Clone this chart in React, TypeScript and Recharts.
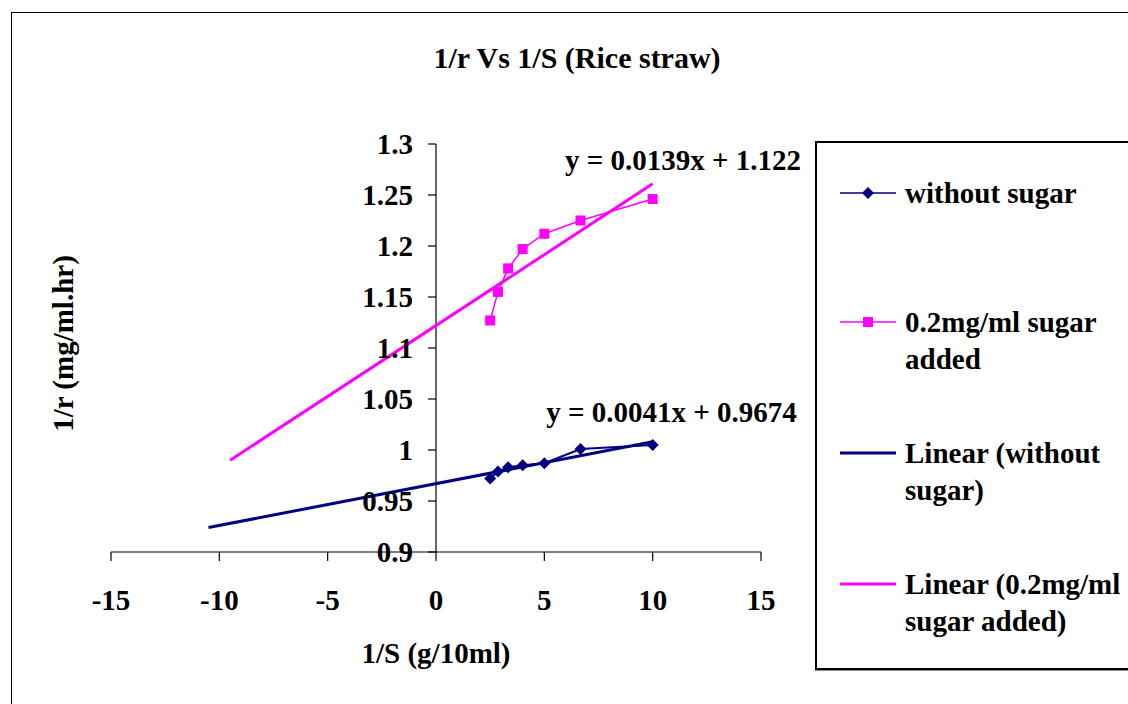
import React from 'react';
import { ScatterChart, Scatter, XAxis, YAxis, ReferenceLine, ReferenceDot } from 'recharts';

// 1/S values (g/10ml) shared by both series
const invS = [2.5, 2.86, 3.33, 4, 5, 6.67, 10];
const withoutSugar = [0.972, 0.979, 0.983, 0.985, 0.987, 1.001, 1.005];
const sugarAdded = [1.127, 1.155, 1.178, 1.197, 1.212, 1.225, 1.246];

// trendline end points (Excel linear fits, forecast backward)
const trendWithoutX = [-10.5, 10];
const trendWithoutY = [0.924, 1.008];
const trendAddedX = [-9.5, 10];
const trendAddedY = [0.990, 1.261];

const xTicks = [-15, -10, -5, 0, 5, 10, 15];
const yTicks = [0.9, 0.95, 1, 1.05, 1.1, 1.15, 1.2, 1.25, 1.3];

const seriesNames = [
  'without sugar',
  '0.2mg/ml sugar added',
  'Linear (without sugar)',
  'Linear (0.2mg/ml sugar added)',
];

const NAVY = '#000080';
const PINK = '#FF00FF';
const FONT = "'Liberation Serif', 'Times New Roman', serif";
const FS = 29;

const W = 1128;
const H = 704;
const Y_AXIS_W = 60;
const MARGIN = { top: 144, right: 367, bottom: 41, left: 111 - Y_AXIS_W };
const X_AXIS_H = 111;
const X_DOMAIN: [number, number] = [-15, 15];
const Y_DOMAIN: [number, number] = [0.9, 1.3];
const PLOT_LEFT = MARGIN.left + Y_AXIS_W;
const PLOT_W = W - PLOT_LEFT - MARGIN.right;
// pixel position of x = 0, where the value axis crosses
const X0 = PLOT_LEFT + (PLOT_W * (0 - X_DOMAIN[0])) / (X_DOMAIN[1] - X_DOMAIN[0]);

const toPoints = (xs: number[], ys: number[]) => xs.map((x, i) => ({ x, y: ys[i] }));

const Diamond = (props: any) => {
  const { cx, cy } = props;
  if (cx == null || cy == null) return <g />;
  const r = 6;
  return <polygon points={`${cx},${cy - r} ${cx + r},${cy} ${cx},${cy + r} ${cx - r},${cy}`} fill={NAVY} />;
};

const Square = (props: any) => {
  const { cx, cy } = props;
  if (cx == null || cy == null) return <g />;
  return <rect x={cx - 5} y={cy - 5} width={10} height={10} fill={PINK} />;
};

const NoMark = () => <g />;

const renderYTick = (props: any) => {
  const { y, payload } = props;
  return (
    <g key={`yt-${payload.value}`}>
      <line x1={X0 - 8} x2={X0} y1={y} y2={y} stroke="#000" strokeWidth={1.2} />
      <text x={X0 - 23} y={y} dy="0.355em" textAnchor="end" fontFamily={FONT} fontSize={FS} fontWeight="bold" fill="#000">
        {payload.value}
      </text>
    </g>
  );
};

const LegendIcon = ({ index }: { index: number }) => {
  const color = index % 2 === 0 ? NAVY : PINK;
  const trend = index >= 2;
  return (
    <svg width={56} height={37} style={{ flex: 'none' }}>
      <line x1={0} x2={56} y1={18} y2={18} stroke={color} strokeWidth={trend ? 3 : 1.5} />
      {index === 0 && <polygon points="28,12 34,18 28,24 22,18" fill={NAVY} />}
      {index === 1 && <rect x={23} y={13} width={10} height={10} fill={PINK} />}
    </svg>
  );
};

const legendGaps = [32, 92, 57, 57];

export default function App() {
  return (
    <div style={{ position: 'absolute', left: 0, top: 0, width: W, height: H, overflow: 'hidden', background: '#fff', fontFamily: FONT }}>
      <div style={{ position: 'absolute', left: 11, top: 12, width: W, height: H, borderLeft: '1.5px solid #000', borderTop: '1.5px solid #000' }} />
      <div style={{ position: 'absolute', left: 0, top: 43, width: 1154, textAlign: 'center', fontSize: 30, lineHeight: '30px', fontWeight: 'bold' }}>
        1/r Vs 1/S (Rice straw)
      </div>
      <div
        style={{
          position: 'absolute', left: 63 - 150, top: 343 - FS / 2, width: 300, textAlign: 'center',
          fontSize: FS, lineHeight: `${FS}px`, fontWeight: 'bold', transform: 'rotate(-90deg)',
        }}
      >
        1/r (mg/ml.hr)
      </div>
      <div style={{ position: 'absolute', left: 0, top: 0 }}>
        <ScatterChart width={W} height={H} margin={MARGIN}>
          <XAxis
            type="number"
            dataKey="x"
            domain={X_DOMAIN}
            ticks={xTicks}
            interval={0}
            height={X_AXIS_H}
            tickSize={9}
            tickMargin={28}
            stroke="#000"
            axisLine={{ stroke: '#000', strokeWidth: 1.2 }}
            tickLine={{ stroke: '#000', strokeWidth: 1.2 }}
            tick={{ fill: '#000', fontSize: FS, fontWeight: 'bold', fontFamily: FONT }}
            allowDataOverflow
            label={{ value: '1/S (g/10ml)', position: 'insideBottom', offset: 0, fill: '#000', fontSize: FS, fontWeight: 'bold', fontFamily: FONT }}
          />
          <YAxis
            type="number"
            dataKey="y"
            domain={Y_DOMAIN}
            ticks={yTicks}
            interval={0}
            width={Y_AXIS_W}
            axisLine={false}
            tickLine={false}
            tick={renderYTick}
            allowDataOverflow
          />
          <ReferenceLine x={0} stroke="#000" strokeWidth={1.2} />
          <Scatter
            name={seriesNames[0]}
            data={toPoints(invS, withoutSugar)}
            line={{ stroke: NAVY, strokeWidth: 2 }}
            shape={<Diamond />}
            isAnimationActive={false}
          />
          <Scatter
            name={seriesNames[1]}
            data={toPoints(invS, sugarAdded)}
            line={{ stroke: PINK, strokeWidth: 1.5 }}
            shape={<Square />}
            isAnimationActive={false}
          />
          <Scatter
            name={seriesNames[2]}
            data={toPoints(trendWithoutX, trendWithoutY)}
            line={{ stroke: NAVY, strokeWidth: 3 }}
            shape={<NoMark />}
            isAnimationActive={false}
          />
          <Scatter
            name={seriesNames[3]}
            data={toPoints(trendAddedX, trendAddedY)}
            line={{ stroke: PINK, strokeWidth: 3 }}
            shape={<NoMark />}
            isAnimationActive={false}
          />
          <ReferenceDot
            x={11.4}
            y={1.2843}
            r={0}
            fill="none"
            stroke="none"
            label={{ value: 'y = 0.0139x + 1.122', position: 'center', fill: '#000', fontSize: FS, fontWeight: 'bold', fontFamily: FONT }}
          />
          <ReferenceDot
            x={10.87}
            y={1.0373}
            r={0}
            fill="none"
            stroke="none"
            label={{ value: 'y = 0.0041x + 0.9674', position: 'center', fill: '#000', fontSize: FS, fontWeight: 'bold', fontFamily: FONT }}
          />
        </ScatterChart>
      </div>
      <div
        style={{
          position: 'absolute', left: 815, top: 141, width: 340, height: 525,
          border: '2px solid #000', boxShadow: '0 1px 0 #888', background: '#fff',
        }}
      >
        {seriesNames.map((name, i) => (
          <div key={name} style={{ display: 'flex', alignItems: 'flex-start', marginTop: legendGaps[i], marginLeft: 23 }}>
            <LegendIcon index={i} />
            <div style={{ marginLeft: 9, width: 235, fontSize: FS, lineHeight: '37px', fontWeight: 'bold' }}>{name}</div>
          </div>
        ))}
      </div>
    </div>
  );
}
